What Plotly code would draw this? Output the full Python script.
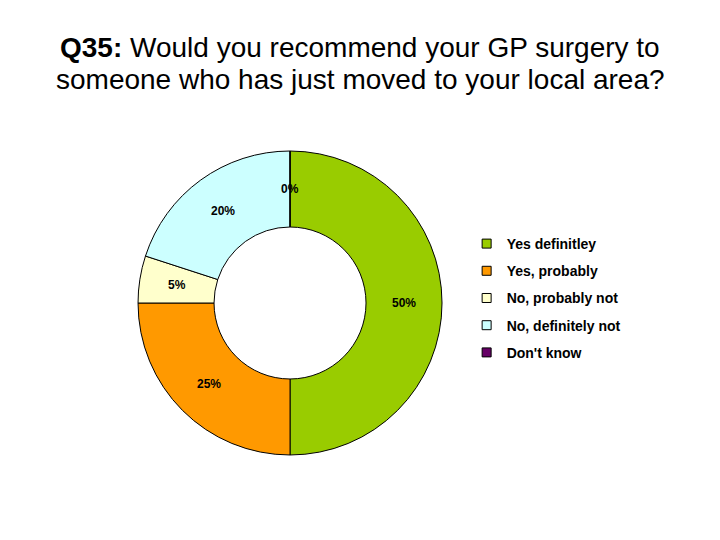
import math
import plotly.graph_objects as go

labels = ["Yes definitley", "Yes, probably", "No, probably not", "No, definitely not", "Don't know"]
values = [50, 25, 5, 20, 0]
text_labels = ["50%", "25%", "5%", "20%", "0%"]
colors = ["#99CC00", "#FF9900", "#FFFFCC", "#CCFFFF", "#660066"]

title_line1 = "<b>Q35:</b> Would you recommend your GP surgery to"
title_line2 = "someone who has just moved to your local area?"

W, H = 720, 540
FONT = "Arial, Liberation Sans, sans-serif"

# pie placement (paper fractions); page body adds an 8px offset
dom_x = [0.1806, 0.6028]
dom_y = [0.1722, 0.7352]
hole = 0.5

fig = go.Figure()

fig.add_trace(go.Pie(
    labels=labels,
    values=values,
    textinfo="none",
    marker=dict(colors=colors, line=dict(color="black", width=1)),
    hole=hole,
    sort=False,
    direction="clockwise",
    rotation=0,
    domain=dict(x=dom_x, y=dom_y),
    showlegend=False,
    hoverinfo="label+percent",
))

# legend entries as dummy traces so the rows can be spaced out
for lab, col in zip(labels, colors):
    fig.add_trace(go.Scatter(
        x=[None], y=[None],
        mode="markers",
        name=lab,
        legendgroup=lab,
        marker=dict(symbol="square", size=9, color=col, line=dict(color="black", width=1)),
        showlegend=True,
    ))

# percentage labels at the middle of the ring, one per slice
cx = (dom_x[0] + dom_x[1]) / 2
cy = (dom_y[0] + dom_y[1]) / 2
r_px = min((dom_x[1] - dom_x[0]) * W, (dom_y[1] - dom_y[0]) * H) / 2
r_mid = r_px * (1 + hole) / 2
total = sum(values)
cum = 0
annotations = []
for t, v in zip(text_labels, values):
    ang = math.radians(90 - 360 * (cum + v / 2) / total)
    annotations.append(dict(
        x=cx + r_mid * math.cos(ang) / W,
        y=cy + r_mid * math.sin(ang) / H,
        xref="paper", yref="paper",
        xanchor="center", yanchor="middle",
        text=t, showarrow=False,
        font=dict(family=FONT, size=12, color="black", weight="bold"),
    ))
    cum += v

annotations.append(dict(
    x=0.4889, y=0.926, xref="paper", yref="paper", xanchor="center", yanchor="middle",
    text=title_line1, showarrow=False, font=dict(family=FONT, size=28, color="black"),
))
annotations.append(dict(
    x=0.4889, y=0.868, xref="paper", yref="paper", xanchor="center", yanchor="middle",
    text=title_line2, showarrow=False, font=dict(family=FONT, size=28, color="black"),
))

fig.update_layout(
    width=W,
    height=H,
    paper_bgcolor="white",
    plot_bgcolor="white",
    margin=dict(l=0, r=0, t=0, b=0),
    xaxis=dict(visible=False),
    yaxis=dict(visible=False),
    annotations=annotations,
    legend=dict(
        x=0.637,
        y=0.5926,
        xanchor="left",
        yanchor="top",
        tracegroupgap=6,
        font=dict(family=FONT, size=14, color="black", weight="bold"),
        bgcolor="rgba(0,0,0,0)",
    ),
)

fig.write_html("out.html")
